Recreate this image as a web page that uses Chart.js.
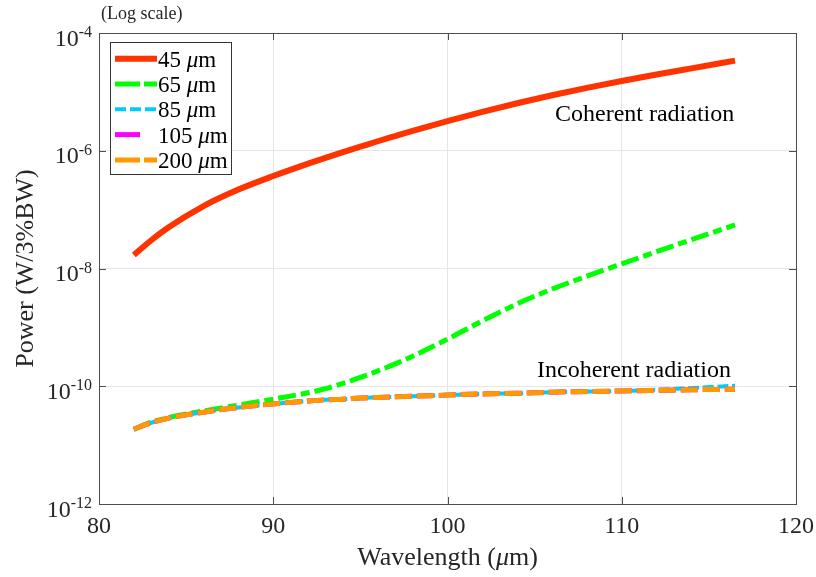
<!DOCTYPE html>
<html>
<head>
<meta charset="utf-8">
<script src="https://cdn.jsdelivr.net/npm/chart.js@4.4.1/dist/chart.umd.min.js"></script>
<style>
  html, body { margin: 0; padding: 0; background: #fff; }
  #wrap { width: 816px; height: 577px; position: relative; }
</style>
</head>
<body>
<div id="wrap"><canvas id="powerChart"></canvas></div>
<script>
// values (wavelength in um, power in W/3%BW)
const wavelength = [82, 83, 84, 86, 88, 90, 92, 93, 94, 95, 96, 97, 98, 100, 102, 104, 106, 108, 110, 112, 114, 116.5];
const power45 = [1.70e-8, 3.02e-8, 5.01e-8, 1.15e-7, 2.19e-7, 3.72e-7, 6.03e-7, 7.59e-7, 9.46e-7, 1.17e-6, 1.45e-6, 1.78e-6, 2.18e-6,
  3.19e-6, 4.57e-6, 6.40e-6, 8.75e-6, 1.17e-5, 1.53e-5, 1.97e-5, 2.51e-5, 3.39e-5];
const power65 = [1.86e-11, 2.45e-11, 2.95e-11, 3.80e-11, 4.79e-11, 6.03e-11, 7.76e-11, 9.12e-11, 1.12e-10, 1.41e-10, 1.82e-10, 2.40e-10, 3.24e-10,
  6.31e-10, 1.29e-9, 2.51e-9, 4.47e-9, 7.41e-9, 1.20e-8, 1.93e-8, 3.09e-8, 5.50e-8];
const power85 = [1.86e-11, 2.40e-11, 2.88e-11, 3.63e-11, 4.37e-11, 5.01e-11, 5.62e-11, 5.89e-11, 6.03e-11, 6.31e-11, 6.46e-11, 6.61e-11, 6.76e-11,
  7.08e-11, 7.41e-11, 7.59e-11, 7.94e-11, 8.13e-11, 8.32e-11, 8.71e-11, 9.33e-11, 1.02e-10];
const power105 = [1.86e-11, 2.40e-11, 2.88e-11, 3.63e-11, 4.37e-11, 5.01e-11, 5.62e-11, 5.89e-11, 6.03e-11, 6.31e-11, 6.46e-11, 6.61e-11, 6.76e-11,
  7.08e-11, 7.41e-11, 7.59e-11, 7.94e-11, 8.13e-11, 8.32e-11, 8.51e-11, 8.71e-11, 8.91e-11];
const power200 = [1.86e-11, 2.40e-11, 2.88e-11, 3.63e-11, 4.37e-11, 5.01e-11, 5.62e-11, 5.89e-11, 6.03e-11, 6.31e-11, 6.46e-11, 6.61e-11, 6.76e-11,
  7.08e-11, 7.41e-11, 7.59e-11, 7.94e-11, 8.13e-11, 8.32e-11, 8.51e-11, 8.71e-11, 8.91e-11];

const seriesNames = ['45', '65', '85', '105', '200'];
const xTicks = [80, 90, 100, 110, 120];
const yTicks = [1e-12, 1e-10, 1e-8, 1e-6, 1e-4];
const yTickExp = ['-12', '-10', '-8', '-6', '-4'];

const SERIF = '"Liberation Serif", "DejaVu Serif", serif';

const styles = [
  { color: '#ff3300', width: 6, dash: [], legendDash: [] },
  { color: '#00ff00', width: 5, dash: [18, 5, 9, 5], legendDash: [25, 4, 13, 4] },
  { color: '#00ccff', width: 4, dash: [11, 3.67], legendDash: [11, 4] },
  { color: '#ff00ff', width: 5, dash: [17, 5], legendDash: [25, 100] },
  { color: '#ff9900', width: 5, dash: [17, 5], legendDash: [25, 4, 13, 4] }
];

const seriesData = [power45, power65, power85, power105, power200];

const datasets = seriesData.map((vals, i) => ({
  label: seriesNames[i] + ' \u03bcm',
  data: wavelength.map((w, k) => ({ x: w, y: vals[k] })),
  borderColor: styles[i].color,
  backgroundColor: styles[i].color,
  borderWidth: styles[i].width,
  borderDash: styles[i].dash,
  borderCapStyle: 'butt',
  pointRadius: 0,
  cubicInterpolationMode: 'monotone',
  fill: false,
  order: seriesData.length - i   // later series on top, like the original
}));

// draws text pieces, some in italic, starting at x
function richText(ctx, parts, x, y, size) {
  let cx = x;
  parts.forEach(p => {
    ctx.font = (p.it ? 'italic ' : '') + size + 'px ' + SERIF;
    ctx.fillText(p.t, cx, y);
    cx += ctx.measureText(p.t).width;
  });
  return cx - x;
}
function richWidth(ctx, parts, size) {
  let w = 0;
  parts.forEach(p => {
    ctx.font = (p.it ? 'italic ' : '') + size + 'px ' + SERIF;
    w += ctx.measureText(p.t).width;
  });
  return w;
}

const decorPlugin = {
  id: 'decor',
  afterDraw(chart) {
    const ctx = chart.ctx;
    const a = chart.chartArea;
    const xs = chart.scales.x, ys = chart.scales.y;
    ctx.save();

    // axes box
    ctx.strokeStyle = '#4d4d4d';
    ctx.lineWidth = 1;
    ctx.setLineDash([]);
    ctx.strokeRect(Math.round(a.left) + 0.5, Math.round(a.top) + 0.5,
      Math.round(a.right - a.left), Math.round(a.bottom - a.top));

    // inward tick marks
    ctx.beginPath();
    xTicks.forEach(v => {
      const px = Math.round(xs.getPixelForValue(v)) + 0.5;
      ctx.moveTo(px, a.bottom); ctx.lineTo(px, a.bottom - 7);
      ctx.moveTo(px, a.top); ctx.lineTo(px, a.top + 7);
    });
    yTicks.forEach(v => {
      const py = Math.round(ys.getPixelForValue(v)) + 0.5;
      ctx.moveTo(a.left, py); ctx.lineTo(a.left + 7, py);
      ctx.moveTo(a.right, py); ctx.lineTo(a.right - 7, py);
    });
    ctx.stroke();

    ctx.fillStyle = '#262626';
    ctx.textBaseline = 'alphabetic';

    // x tick labels
    ctx.font = '24px ' + SERIF;
    ctx.textAlign = 'center';
    xTicks.forEach(v => ctx.fillText(String(v), xs.getPixelForValue(v), 533));

    // y tick labels 10^n
    ctx.textAlign = 'left';
    yTicks.forEach((v, i) => {
      const py = ys.getPixelForValue(v);
      ctx.font = '24px ' + SERIF;
      const wb = ctx.measureText('10').width;
      ctx.font = '16px ' + SERIF;
      const we = ctx.measureText(yTickExp[i]).width;
      const x0 = a.left - 7 - wb - we;
      ctx.font = '24px ' + SERIF;
      ctx.fillText('10', x0, py + 12.5);
      ctx.font = '16px ' + SERIF;
      ctx.fillText(yTickExp[i], x0 + wb, py + 4);
    });

    // axis titles
    const xt = [{ t: 'Wavelength (' }, { t: '\u03bc', it: true }, { t: 'm)' }];
    const xtw = richWidth(ctx, xt, 26);
    richText(ctx, xt, (a.left + a.right) / 2 - xtw / 2, 565, 26);

    ctx.save();
    ctx.translate(33, (a.top + a.bottom) / 2);
    ctx.rotate(-Math.PI / 2);
    ctx.textAlign = 'center';
    ctx.font = '26px ' + SERIF;
    ctx.fillText('Power (W/3%BW)', 0, 0);
    ctx.restore();

    ctx.textAlign = 'left';
    ctx.font = '18px ' + SERIF;
    ctx.fillText('(Log scale)', 101, 19);

    // annotations
    ctx.fillStyle = '#000';
    ctx.font = '24px ' + SERIF;
    ctx.fillText('Coherent radiation', 555, 121);
    ctx.fillText('Incoherent radiation', 537, 377);

    // legend box inside the axes
    const lx = 110.5, ly = 42.5, lw = 121, lh = 132;
    ctx.fillStyle = '#fff';
    ctx.fillRect(lx, ly, lw, lh);
    ctx.strokeStyle = '#333';
    ctx.lineWidth = 1;
    ctx.strokeRect(lx, ly, lw, lh);
    datasets.forEach((ds, i) => {
      const yy = 58.7 + i * 25.3;
      ctx.save();
      ctx.strokeStyle = styles[i].color;
      ctx.lineWidth = styles[i].width;
      ctx.lineCap = 'butt';
      ctx.setLineDash(styles[i].legendDash);
      ctx.beginPath();
      ctx.moveTo(115, yy);
      ctx.lineTo(157, yy);
      ctx.stroke();
      ctx.restore();
      ctx.fillStyle = '#000';
      richText(ctx, [{ t: seriesNames[i] + ' ' }, { t: '\u03bc', it: true }, { t: 'm' }], 158, yy + 8, 23);
    });

    ctx.restore();
  }
};

const ctx = document.getElementById('powerChart').getContext('2d');
new Chart(ctx, {
  type: 'line',
  data: { datasets: datasets },
  options: {
    responsive: true,
    maintainAspectRatio: false,
    animation: false,
    devicePixelRatio: 1,
    layout: { padding: { left: 99, right: 20, top: 33, bottom: 73 } },
    plugins: { legend: { display: false }, tooltip: { enabled: false } },
    scales: {
      x: {
        type: 'linear', min: 80, max: 120,
        afterBuildTicks: s => { s.ticks = xTicks.map(v => ({ value: v })); },
        ticks: { display: false },
        grid: { color: '#e6e6e6', lineWidth: 1, drawTicks: false },
        border: { display: false }
      },
      y: {
        type: 'logarithmic', min: 1e-12, max: 1e-4,
        afterBuildTicks: s => { s.ticks = yTicks.map(v => ({ value: v })); },
        ticks: { display: false },
        grid: { color: '#e6e6e6', lineWidth: 1, drawTicks: false },
        border: { display: false }
      }
    }
  },
  plugins: [decorPlugin]
});
</script>
</body>
</html>
